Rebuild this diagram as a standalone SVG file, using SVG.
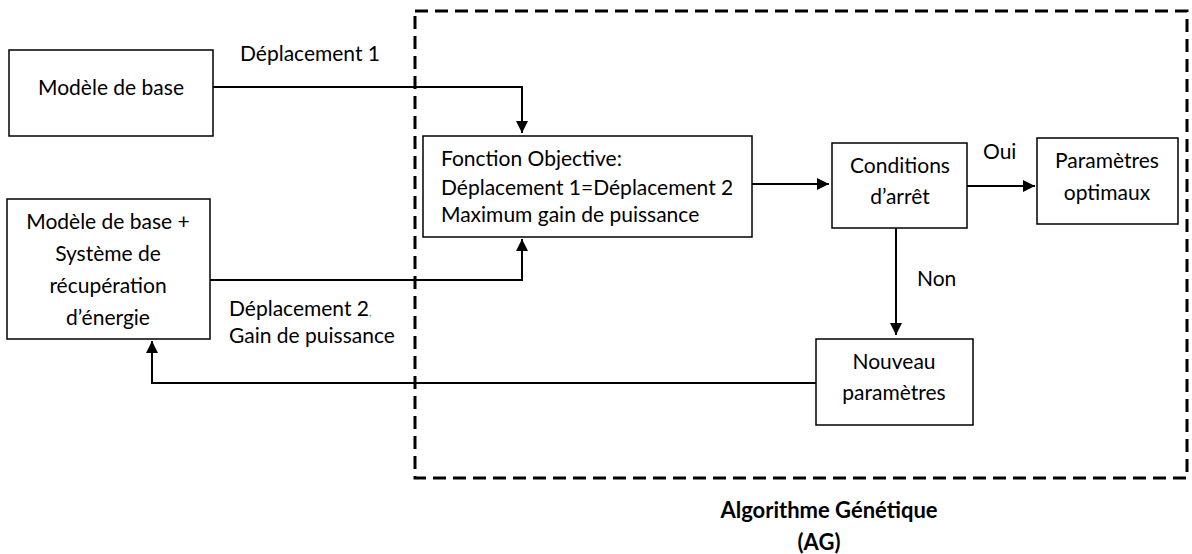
<svg xmlns="http://www.w3.org/2000/svg" width="1192" height="554" viewBox="0 0 1192 554">
<style>
.box{fill:#fff;stroke:#000;stroke-width:1.5}
.t{font-family:Lato,"Liberation Sans",sans-serif;font-size:21px;fill:#000}
.c{text-anchor:middle}
.ln{fill:none;stroke:#000;stroke-width:2}
.b{font-weight:bold;font-size:22px}
</style>
<defs>
<marker id="ah" viewBox="0 0 10 10" refX="10" refY="5" markerWidth="6" markerHeight="6" orient="auto" markerUnits="strokeWidth">
<path d="M0,0 L10,5 L0,10 z" fill="#000"/>
</marker>
</defs>
<rect x="415" y="11" width="772" height="467" fill="none" stroke="#000" stroke-width="3" stroke-dasharray="13,7"/>
<g id="connectors">
<path class="ln" d="M213,87 H522 V133" marker-end="url(#ah)"/>
<path class="ln" d="M210,280 H522 V239" marker-end="url(#ah)"/>
<path class="ln" d="M752,184 H829" marker-end="url(#ah)"/>
<path class="ln" d="M967,186 H1035" marker-end="url(#ah)"/>
<path class="ln" d="M896,228 V335" marker-end="url(#ah)"/>
<path class="ln" d="M816,383 H152 V341" marker-end="url(#ah)"/>
<text class="t" x="240" y="61">Déplacement 1</text>
<text class="t" x="229" y="316">Déplacement 2<tspan font-size="11" fill="#3a3">,</tspan></text>
<text class="t" x="229" y="343">Gain de puissance</text>
<text class="t" x="983" y="159">Oui</text>
<text class="t" x="917" y="286">Non</text>
</g>
<g id="modele">
<rect class="box" x="9" y="50" width="204" height="86"/>
<text class="t c" x="111" y="95">Modèle de base</text>
</g>
<g id="modele-recup">
<rect class="box" x="7" y="199" width="203" height="140"/>
<text class="t c" x="108" y="229">Modèle de base +</text>
<text class="t c" x="108" y="261">Système de</text>
<text class="t c" x="108" y="293">récupération</text>
<text class="t c" x="108" y="325">d’énergie</text>
</g>
<g id="fonction">
<rect class="box" x="423" y="136" width="329" height="101"/>
<text class="t" x="441" y="166">Fonction Objective:</text>
<text class="t" x="441" y="195">Déplacement 1=Déplacement 2</text>
<text class="t" x="441" y="222">Maximum gain de puissance</text>
</g>
<g id="conditions">
<rect class="box" x="832" y="143" width="135" height="85"/>
<text class="t c" x="900" y="173">Conditions</text>
<text class="t c" x="900" y="204">d’arrêt</text>
</g>
<g id="parametres-optimaux">
<rect class="box" x="1037" y="138" width="141" height="86"/>
<text class="t c" x="1107" y="168">Paramètres</text>
<text class="t c" x="1107" y="200">optimaux</text>
</g>
<g id="nouveau">
<rect class="box" x="816" y="339" width="157" height="86"/>
<text class="t c" x="894" y="369">Nouveau</text>
<text class="t c" x="894" y="400">paramètres</text>
</g>
<g id="label-ag">
<text class="t c b" x="829" y="518">Algorithme Génétique</text>
<text class="t c b" x="819" y="550">(AG)</text>
</g>
</svg>
